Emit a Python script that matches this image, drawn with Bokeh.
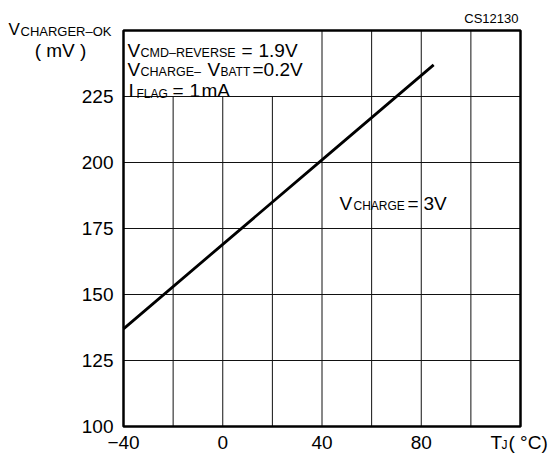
from bokeh.plotting import figure
from bokeh.models import Range1d, Label
from bokeh.embed import file_html
from bokeh.resources import INLINE

# ---- data ----
temp_c = [-40, 0, 40, 85]
v_charger_ok_mv = [137, 169, 201, 237]

x_tick_values = [-40, 0, 40, 80]
x_tick_labels = ["\u221240", "0", "40", "80"]
y_tick_values = [100, 125, 150, 175, 200, 225]
y_tick_labels = ["100", "125", "150", "175", "200", "225"]
x_grid_values = [-20, 0, 20, 40, 60, 80, 100]
y_grid_values = [125, 150, 175, 200, 225]
x_limits = [-40, 120]
y_limits = [100, 250]
note_box_right = 40      # conditions box covers x -40..40
note_box_bottom = 225    # and y 225..250

FONT = "Liberation Sans"

# ---- layout: chart box placed at these page pixels ----
W, H = 557, 456
BOX_L, BOX_R, BOX_T, BOX_B = 123, 520, 30, 426
kx = (BOX_R - BOX_L) / (x_limits[1] - x_limits[0])
ky = (BOX_B - BOX_T) / (y_limits[1] - y_limits[0])
x_range = Range1d(x_limits[0] - BOX_L / kx, x_limits[1] + (W - BOX_R) / kx)
y_range = Range1d(y_limits[0] - (H - BOX_B) / ky, y_limits[1] + BOX_T / ky)

p = figure(width=W, height=H, output_backend="svg", toolbar_location=None,
           x_range=x_range, y_range=y_range,
           min_border=0, min_border_left=0, min_border_right=0,
           min_border_top=0, min_border_bottom=0)
p.axis.visible = False
p.grid.visible = False
p.outline_line_color = None
p.background_fill_color = "white"
p.border_fill_color = "white"

# grid lines (the upper-left cells are blanked by the conditions box)
vx_top = [note_box_bottom if x < note_box_right else y_limits[1] for x in x_grid_values]
p.segment(x0=x_grid_values, y0=[y_limits[0]] * len(x_grid_values),
          x1=x_grid_values, y1=vx_top, line_color="#111111", line_width=1)
p.segment(x0=[x_limits[0]] * len(y_grid_values), y0=y_grid_values,
          x1=[x_limits[1]] * len(y_grid_values), y1=y_grid_values,
          line_color="#111111", line_width=1)

# chart border
p.quad(left=[x_limits[0]], right=[x_limits[1]], bottom=[y_limits[0]], top=[y_limits[1]],
       fill_color=None, line_color="black", line_width=2.5)

p.line(temp_c, v_charger_ok_mv, line_color="black", line_width=2.8)

# tick labels
for v, t in zip(y_tick_values, y_tick_labels):
    p.add_layout(Label(x=x_limits[0], y=v, x_offset=-10, text=t, text_font=FONT,
                       text_font_size="19px", text_color="black",
                       text_align="right", text_baseline="middle"))
for v, t in zip(x_tick_values, x_tick_labels):
    p.add_layout(Label(x=v, y=y_limits[0], y_offset=-16, text=t, text_font=FONT,
                       text_font_size="19px", text_color="black",
                       text_align="center", text_baseline="alphabetic"))

# ---- other texts (page pixels, relative to the chart box's top-left) ----
pieces = [
    # text, size, page x, baseline y, align
    ("V", 17, 8, 29, "left"),
    ("CHARGER\u2013OK", 13, 20, 31, "left"),
    ("( mV )", 19, 60, 50, "center"),
    ("CS12130", 13, 518, 18, "right"),
    ("V", 19, 127, 50, "left"),
    ("CMD\u2013REVERSE", 12.5, 140, 52, "left"),
    ("=", 19, 241, 50, "left"),
    ("1.9V", 19, 258, 50, "left"),
    ("V", 19, 127, 69, "left"),
    ("CHARGE\u2013", 12.5, 140, 71, "left"),
    ("V", 19, 207, 69, "left"),
    ("BATT", 12, 220, 71, "left"),
    ("=0.2V", 19, 252, 69, "left"),
    ("I", 19, 128, 90, "left"),
    ("FLAG", 12, 136, 93, "left"),
    ("=", 19, 172, 90, "left"),
    ("1", 19, 189, 90, "left"),
    ("mA", 19, 201, 90, "left"),
    ("V", 19, 339, 203, "left"),
    ("CHARGE", 12, 353, 205, "left"),
    ("=", 19, 407, 203, "left"),
    ("3V", 19, 423, 203, "left"),
    ("T", 19, 490, 442, "left"),
    ("J", 12, 501, 444, "left"),
    ("( \u00b0C)", 19, 508, 442, "left"),
]
for text, size, px, py, align in pieces:
    p.add_layout(Label(x=x_limits[0], y=y_limits[1],
                       x_offset=px - BOX_L, y_offset=BOX_T - py,
                       text=text, text_font=FONT, text_font_size=f"{size}px",
                       text_color="black", text_align=align, text_baseline="alphabetic"))

open("out.html", "w").write(file_html(p, INLINE))
